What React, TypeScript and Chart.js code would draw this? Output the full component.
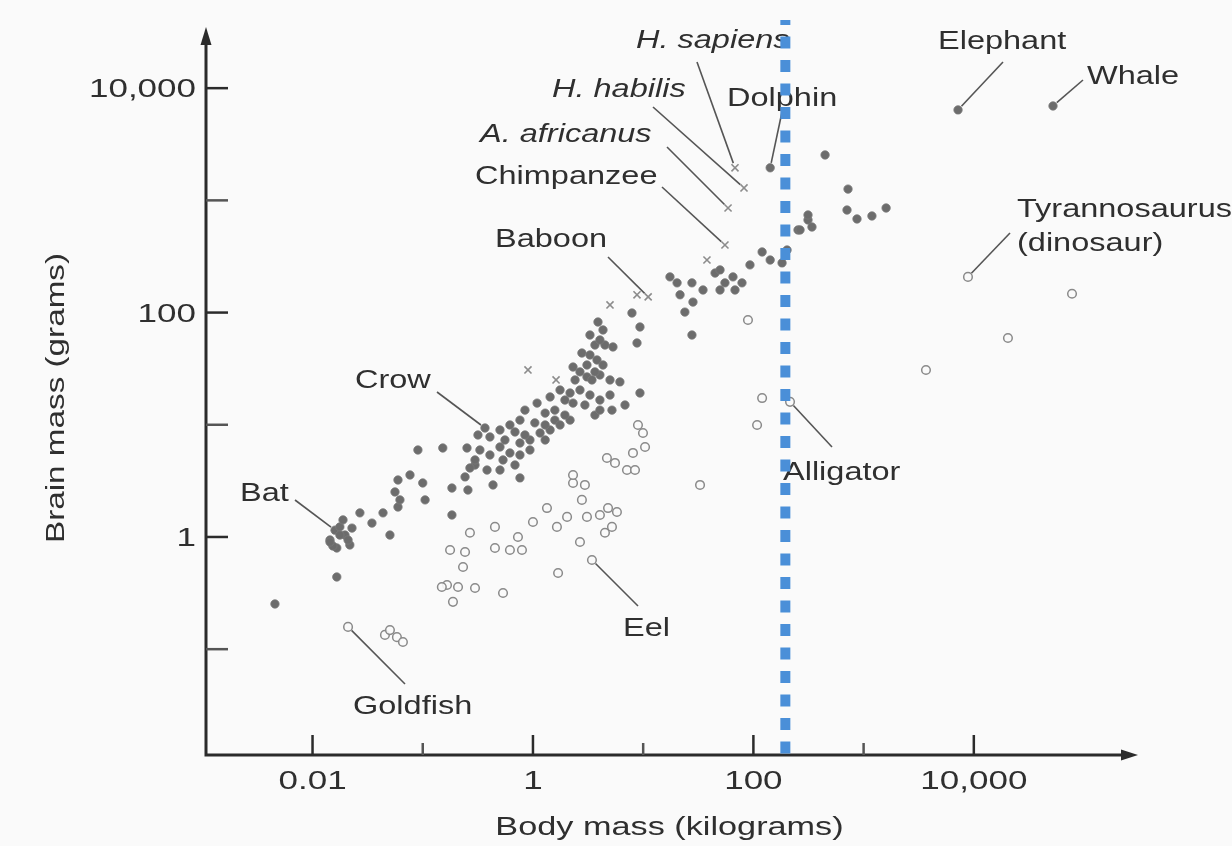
import React, { useEffect, useRef } from 'react';
import { Chart, registerables } from 'chart.js';

Chart.register(...registerables);

// ---- Axis ranges and ticks ----
const X_MIN = 0.00108;
const X_MAX = 290000;
const Y_MIN = 0.0114;
const Y_MAX = 40500;
const X_MAJOR_TICKS = [0.01, 1, 100, 10000];
const X_MAJOR_LABELS = ['0.01', '1', '100', '10,000'];
const X_MINOR_TICKS = [0.1, 10, 1000];
const Y_MAJOR_TICKS = [1, 100, 10000];
const Y_MAJOR_LABELS = ['1', '100', '10,000'];
const Y_MINOR_TICKS = [0.1, 10, 1000];
const X_TITLE = 'Body mass (kilograms)';
const Y_TITLE = 'Brain mass (grams)';
const MARKER_BODY_KG = 195; // dotted reference line

// ---- Mammals & birds (filled dots) ----
const mammalBodyKg = [
  0.00456, 0.0166, 0.0144, 0.016, 0.0177, 0.0197, 0.0218, 0.0166, 0.0189, 0.0228, 0.0153, 0.021, 0.0177, 0.0144,
  0.0269, 0.0346, 0.0436, 0.0504, 0.056, 0.0596, 0.0596, 0.0766, 0.0621,
  0.0904, 0.152, 0.252, 0.298, 0.1, 0.105, 0.184, 0.257, 0.184, 0.242,
  0.367, 0.317, 0.407, 0.33, 0.407, 0.535, 0.618, 0.762, 0.939, 0.383, 0.268, 0.502, 0.687, 0.298, 0.434, 0.762,
  0.502, 0.557, 0.762, 0.939, 1.29, 0.502, 0.687, 0.846, 1.16, 1.43, 0.618, 0.762, 1.04, 1.29, 1.58, 1.76, 2.17,
  3.65, 1.95, 0.846, 1.29, 1.58, 1.09, 1.43, 1.76, 1.95, 2.31, 2.17, 2.67, 2.96, 3.29, 4.05, 4.05, 5.0, 6.15, 9.35,
  2.41, 2.67, 3.09, 3.43, 4.05, 3.65, 5.0, 2.31, 3.09, 3.81, 4.32, 2.78, 3.29, 3.65, 4.5, 4.05, 3.29, 4.32, 3.89,
  5.32, 8.79, 9.35, 7.91, 6.84, 5.21,
  17.5, 21.6, 27.7, 23.9, 28.3, 34.9, 44.9, 49.8, 55.2, 65.3, 68.1, 49.8, 93.1, 120, 142, 182, 202, 27.7,
  254, 313, 340, 265, 447, 722, 707, 871, 1190, 1600, 313, 142, 20.3, 78.8, 7190, 52300,
];
const mammalBrainG = [
  0.253, 0.44, 0.94, 1.15, 1.23, 1.04, 0.849, 0.798, 1.42, 1.2, 0.832, 0.94, 1.04, 0.902,
  1.64, 1.33, 1.64, 1.04, 2.52, 3.22, 1.85, 3.57, 2.14,
  5.96, 6.21, 6.21, 4.38, 3.03, 2.14, 2.73, 2.62, 1.57, 3.43,
  9.36, 8.11, 7.79, 5.96, 5.38, 4.86, 5.61, 5.38, 5.96, 3.95, 4.12, 3.95, 4.38, 4.86, 2.91, 3.36,
  6.34, 7.32, 6.88, 7.32, 7.32, 8.99, 8.63, 8.11, 8.45, 8.99, 9.96, 11.0, 10.4, 9.96, 11.0, 9.96, 11.0,
  12.2, 12.2, 13.5, 12.7, 13.5, 15.6, 17.7, 20.4, 16.6, 15.6, 19.2, 20.4, 15.0, 18.4, 16.6, 13.5, 18.4, 24.1, 19.2,
  25.1, 29.6, 26.7, 25.1, 27.8, 29.6, 25.1, 32.7, 34.1, 37.8, 34.1, 43.6, 41.9, 51.4, 51.4, 57.0, 63.1, 70.0, 82.4,
  49.4, 53.6, 74.4, 99.1, 15.0, 13.5,
  208, 144, 184, 101, 124, 159, 225, 240, 184, 208, 159, 159, 266, 347, 294, 277, 361, 63.1,
  545, 669, 579, 545, 2540, 1260, 820, 683, 726, 855, 741, 1950, 184, 184, 6400, 6940,
];

// ---- Fish & reptiles (open circles) ----
const fishBodyKg = [
  0.021, 0.0454, 0.0504, 0.0583, 0.0661,
  0.268, 0.177, 0.242, 0.232, 0.166, 0.209, 0.298, 0.188, 0.149, 0.452, 0.452, 0.618, 0.795, 0.731, 1.0, 0.535,
  1.69, 1.34, 1.65, 2.04, 2.31, 2.31, 2.96, 2.78, 3.09, 4.05, 4.8, 5.78, 5.21, 2.67, 4.5,
  4.69, 5.55, 7.13, 8.43, 8.08, 10.4, 9.96, 8.97, 32.8, 108, 120, 89.3, 215, 8850, 77800, 20400, 3680, 3.43,
];
const fishBrainG = [
  0.158, 0.134, 0.148, 0.128, 0.116,
  1.09, 0.766, 0.735, 0.54, 0.373, 0.358, 0.351, 0.264, 0.358, 1.23, 0.798, 0.766, 0.766, 1.0, 1.36, 0.317,
  0.478, 1.81, 1.23, 1.51, 3.03, 3.57, 2.91, 2.14, 1.51, 1.57, 1.81, 1.67, 1.23, 0.902, 1.09,
  5.06, 4.57, 3.95, 3.95, 5.61, 6.34, 8.45, 9.96, 2.91, 9.96, 17.3, 85.9, 16.0, 208, 147, 59.4, 30.8, 0.624,
];

// ---- Primates & hominids (crosses) ----
const hominidBodyKg = [68.1, 82.2, 58.9, 55.2, 11.1, 8.79, 0.901, 1.62, 37.9, 5.0];
const hominidBrainG = [1950, 1290, 855, 400, 138, 144, 30.8, 25.1, 294, 117];

// ---- Callout labels ----
const LABEL_TEXTS = ['H. sapiens', 'H. habilis', 'A. africanus', 'Chimpanzee', 'Baboon', 'Dolphin', 'Elephant', 'Whale',
  'Tyrannosaurus', '(dinosaur)', 'Crow', 'Bat', 'Alligator', 'Eel', 'Goldfish'];
const LABEL_TARGET_KG = [68.1, 82.2, 58.9, 55.2, 11.1, 142, 7190, 52300, 8850, null, 0.367, 0.016, 215, 3.43, 0.021];
const LABEL_TARGET_G = [1950, 1290, 855, 400, 138, 1950, 6400, 6940, 208, null, 9.36, 1.15, 16.0, 0.624, 0.158];

// label layout (pixel placement of text and leader start)
const LABEL_LAYOUT = [
  { x: 636, y: 48, italic: true, lx: 697, ly: 62 },
  { x: 552, y: 97, italic: true, lx: 653, ly: 107 },
  { x: 480, y: 142, italic: true, lx: 667, ly: 147 },
  { x: 475, y: 184, lx: 662, ly: 187 },
  { x: 495, y: 247, lx: 608, ly: 257 },
  { x: 727, y: 106, lx: 782, ly: 112 },
  { x: 938, y: 49, lx: 1003, ly: 62 },
  { x: 1087, y: 84, lx: 1083, ly: 80 },
  { x: 1017, y: 217, lx: 1010, ly: 233 },
  { x: 1017, y: 251 },
  { x: 355, y: 388, lx: 437, ly: 392 },
  { x: 240, y: 501, lx: 295, ly: 500 },
  { x: 783, y: 480, lx: 832, ly: 447 },
  { x: 623, y: 636, lx: 638, ly: 606 },
  { x: 353, y: 714, lx: 405, ly: 684 },
];

const FONT = '"Liberation Sans", Arial, Helvetica, sans-serif';
const TEXT_COLOR = '#2f2f2f';
const AXIS_COLOR = '#2b2b2b';

function zip(xs: number[], ys: number[]) {
  return xs.map((x, i) => ({ x, y: ys[i] }));
}

function drawText(ctx: CanvasRenderingContext2D, s: string, x: number, y: number,
  opts: { size?: number; sx?: number; italic?: boolean; align?: CanvasTextAlign; rot?: number } = {}) {
  const { size = 25, sx = 1.3, italic = false, align = 'left', rot = 0 } = opts;
  ctx.save();
  ctx.translate(x, y);
  if (rot) ctx.rotate(rot);
  ctx.scale(sx, 1);
  ctx.font = `${italic ? 'italic ' : ''}${size}px ${FONT}`;
  ctx.textAlign = align;
  ctx.textBaseline = 'alphabetic';
  ctx.fillStyle = TEXT_COLOR;
  ctx.fillText(s, 0, 0);
  ctx.restore();
}

const decorPlugin = {
  id: 'decor',
  beforeDraw(chart: any) {
    const ctx = chart.ctx as CanvasRenderingContext2D;
    ctx.save();
    ctx.fillStyle = '#fafafa';
    ctx.fillRect(0, 0, chart.width, chart.height);
    ctx.restore();
  },
  beforeDatasetsDraw(chart: any) {
    const ctx = chart.ctx as CanvasRenderingContext2D;
    const xs = chart.scales.x;
    const ys = chart.scales.y;
    const ax = xs.left;
    const ay = ys.bottom;
    ctx.save();
    // axes
    ctx.strokeStyle = AXIS_COLOR;
    ctx.lineWidth = 3;
    ctx.beginPath();
    ctx.moveTo(ax, ay + 1.5);
    ctx.lineTo(ax, 40);
    ctx.moveTo(ax - 1.5, ay);
    ctx.lineTo(xs.right - 12, ay);
    ctx.stroke();
    // arrows
    ctx.fillStyle = AXIS_COLOR;
    ctx.beginPath();
    ctx.moveTo(ax, 27);
    ctx.lineTo(ax - 5.5, 45);
    ctx.lineTo(ax + 5.5, 45);
    ctx.closePath();
    ctx.fill();
    ctx.beginPath();
    ctx.moveTo(xs.right + 3, ay);
    ctx.lineTo(xs.right - 14, ay - 5.5);
    ctx.lineTo(xs.right - 14, ay + 5.5);
    ctx.closePath();
    ctx.fill();
    // x ticks
    ctx.lineWidth = 2.5;
    X_MAJOR_TICKS.forEach((v, i) => {
      const px = xs.getPixelForValue(v);
      ctx.strokeStyle = AXIS_COLOR;
      ctx.beginPath();
      ctx.moveTo(px, ay);
      ctx.lineTo(px, ay - 20);
      ctx.stroke();
      drawText(ctx, X_MAJOR_LABELS[i], px, 789, { align: 'center', sx: 1.4 });
    });
    X_MINOR_TICKS.forEach((v) => {
      const px = xs.getPixelForValue(v);
      ctx.strokeStyle = '#555';
      ctx.beginPath();
      ctx.moveTo(px, ay);
      ctx.lineTo(px, ay - 12);
      ctx.stroke();
    });
    // y ticks
    Y_MAJOR_TICKS.forEach((v, i) => {
      const py = ys.getPixelForValue(v);
      ctx.strokeStyle = AXIS_COLOR;
      ctx.beginPath();
      ctx.moveTo(ax, py);
      ctx.lineTo(ax + 22, py);
      ctx.stroke();
      drawText(ctx, Y_MAJOR_LABELS[i], ax - 10, py + 9, { align: 'right', sx: 1.4 });
    });
    Y_MINOR_TICKS.forEach((v) => {
      const py = ys.getPixelForValue(v);
      ctx.strokeStyle = '#555';
      ctx.beginPath();
      ctx.moveTo(ax, py);
      ctx.lineTo(ax + 22, py);
      ctx.stroke();
    });
    // titles
    drawText(ctx, X_TITLE, (xs.left + xs.right) / 2 - 1, 835, { align: 'center', sx: 1.37 });
    drawText(ctx, Y_TITLE, 64, 398, { align: 'center', sx: 1.33, rot: -Math.PI / 2 });
    // callouts
    ctx.strokeStyle = '#555';
    ctx.lineWidth = 1.6;
    LABEL_TEXTS.forEach((t, i) => {
      const L: any = LABEL_LAYOUT[i];
      drawText(ctx, t, L.x, L.y, { italic: !!L.italic });
      const tx = LABEL_TARGET_KG[i];
      const ty = LABEL_TARGET_G[i];
      if (tx != null && ty != null && L.lx != null) {
        const px = xs.getPixelForValue(tx);
        const py = ys.getPixelForValue(ty);
        const dx = px - L.lx;
        const dy = py - L.ly;
        const d = Math.hypot(dx, dy);
        const ex = px - (dx / d) * 5;
        const ey = py - (dy / d) * 5;
        ctx.beginPath();
        ctx.moveTo(L.lx, L.ly);
        ctx.lineTo(ex, ey);
        ctx.stroke();
      }
    });
    ctx.restore();
  },
};

export default function App() {
  const ref = useRef<HTMLCanvasElement | null>(null);
  useEffect(() => {
    if (!ref.current) return;
    const chart = new Chart(ref.current, {
      type: 'scatter',
      data: {
        datasets: [
          {
            type: 'line',
            label: 'reference',
            data: [{ x: MARKER_BODY_KG, y: Y_MAX }, { x: MARKER_BODY_KG, y: Y_MIN }],
            borderColor: '#4a8fd8',
            borderWidth: 10,
            borderDash: [12, 11.5],
            borderDashOffset: 7,
            borderCapStyle: 'butt',
            pointRadius: 0,
            fill: false,
            order: 0,
          } as any,
          {
            label: 'Mammals and birds',
            data: zip(mammalBodyKg, mammalBrainG),
            pointStyle: 'circle',
            pointRadius: 4.2,
            backgroundColor: '#6c6c6c',
            borderColor: '#7a7a7a',
            borderWidth: 0.8,
            order: 2,
          },
          {
            label: 'Fish and reptiles',
            data: zip(fishBodyKg, fishBrainG),
            pointStyle: 'circle',
            pointRadius: 4.3,
            backgroundColor: 'rgba(250,250,250,0.9)',
            borderColor: '#8a8a8a',
            borderWidth: 1.5,
            order: 1,
          },
          {
            label: 'Primates',
            data: zip(hominidBodyKg, hominidBrainG),
            pointStyle: 'crossRot',
            pointRadius: 5,
            borderColor: '#8c8c8c',
            borderWidth: 1.6,
            order: 1,
          },
        ],
      },
      options: {
        responsive: false,
        animation: false,
        devicePixelRatio: 1,
        layout: { padding: { left: 206, right: 97, top: 20, bottom: 91 } },
        scales: {
          x: { type: 'logarithmic', min: X_MIN, max: X_MAX, display: false },
          y: { type: 'logarithmic', min: Y_MIN, max: Y_MAX, display: false },
        },
        plugins: {
          legend: { display: false },
          tooltip: { enabled: false },
        },
      },
      plugins: [decorPlugin],
    });
    return () => chart.destroy();
  }, []);
  return (
    <div style={{ position: 'fixed', left: 0, top: 0, width: 1232, height: 846, background: '#fafafa' }}>
      <canvas ref={ref} width={1232} height={846} style={{ display: 'block' }} />
    </div>
  );
}
